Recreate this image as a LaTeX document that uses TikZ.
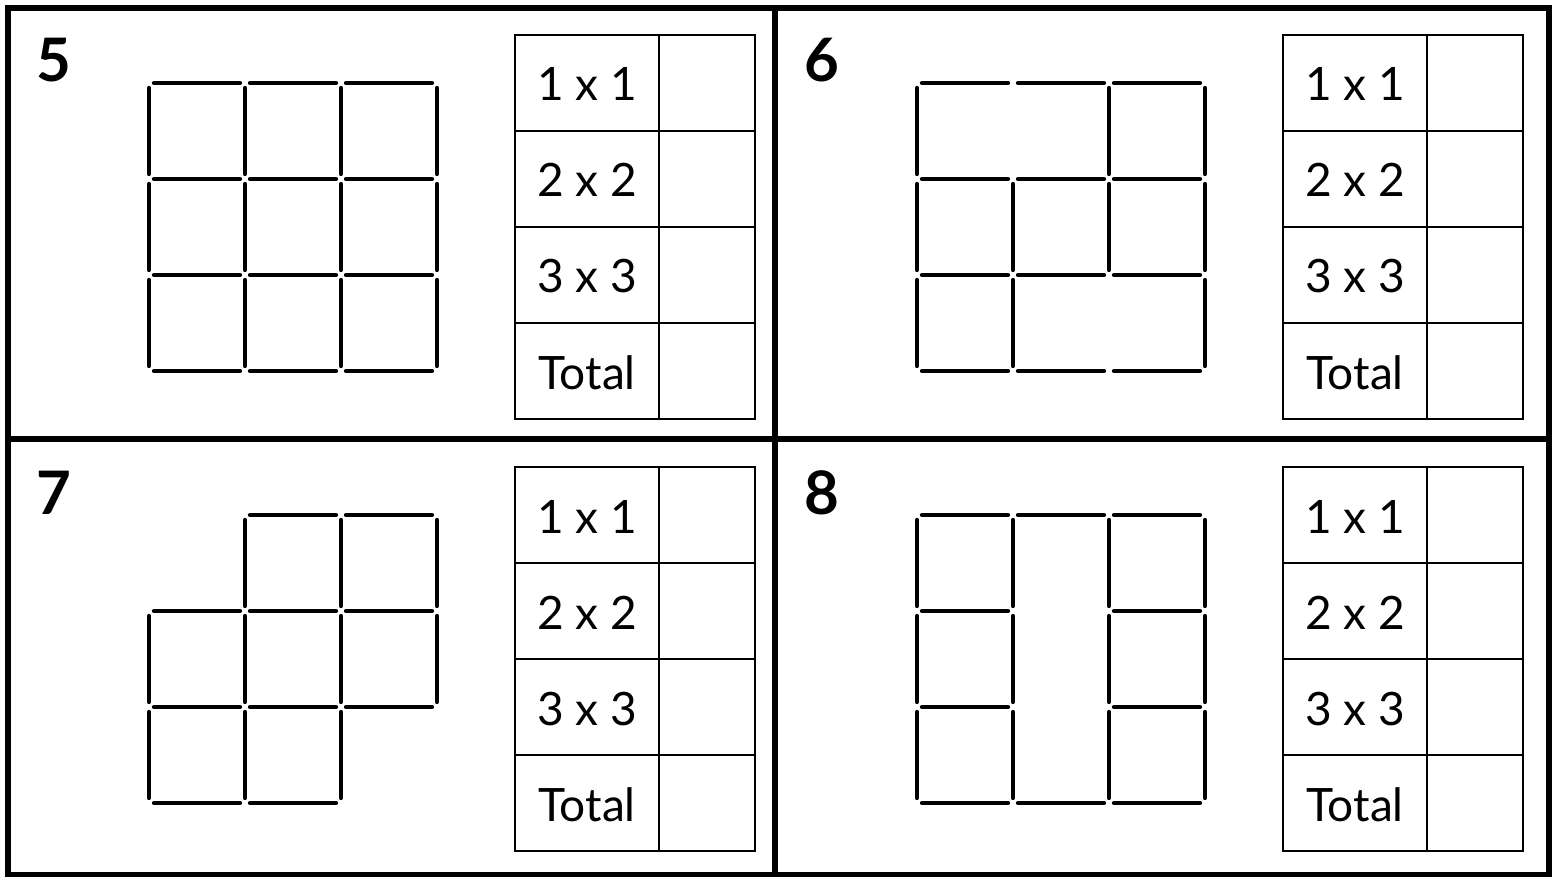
\documentclass[tikz,border=0pt]{standalone}
\usepackage{fontspec}
\setmainfont{Lato}
\usepackage{tikz}
\definecolor{mtsblack}{RGB}{0,0,0}

\begin{document}
\begin{tikzpicture}[x=0.5pt,y=-0.5pt,
    stick/.style={mtsblack,line width=2.1pt,line cap=round},
    tabline/.style={mtsblack,line width=1pt},
    frameline/.style={mtsblack,line width=2.6pt},
    cellnum/.style={anchor=base,inner sep=0pt,font=\fontsize{23}{27}\selectfont},
    paneltag/.style={anchor=base west,inner sep=0pt,font=\fontsize{30}{35}\selectfont\bfseries}]
  \useasboundingbox (0,0) rectangle (1559,877);
  % panels: table and number
  \foreach \ox/\oy/\num in {0/0/5,768/0/6,0/432/7,768/432/8}{
    \begin{scope}[shift={(\ox,\oy)}]
      \node[paneltag] (tag-\num) at (36,82) {\num};
      \draw[tabline] (515,35) rectangle (755,419);
      \draw[tabline] (659,35) -- (659,419);
      \foreach \r in {131,227,323}
        \draw[tabline] (515,\r) -- (755,\r);
      \foreach \k/\txt in {0/1 x 1,1/2 x 2,2/3 x 3,3/Total}
        \node[cellnum] (cell-\num-\k) at (587,{101+96*\k}) {\txt};
    \end{scope}
  }
  % matchsticks, grid origin (149,83), pitch 96
  \begin{scope}[shift={(149,83)}]
    \foreach \i in {0,1,2} \foreach \j in {0,1,2,3}
      \draw[stick] ({96*\i+5},{96*\j}) -- ++(86,0);
    \foreach \i in {0,1,2,3} \foreach \j in {0,1,2}
      \draw[stick] ({96*\i},{96*\j+5}) -- ++(0,86);
  \end{scope}
  \begin{scope}[shift={(917,83)}]
    \foreach \i in {0,1,2} \foreach \j in {0,1,2,3}
      \draw[stick] ({96*\i+5},{96*\j}) -- ++(86,0);
    \foreach \i/\j in {0/0,2/0,3/0,0/1,1/1,2/1,3/1,0/2,1/2,3/2}
      \draw[stick] ({96*\i},{96*\j+5}) -- ++(0,86);
  \end{scope}
  \begin{scope}[shift={(149,515)}]
    \foreach \i/\j in {1/0,2/0,0/1,1/1,2/1,0/2,1/2,2/2,0/3,1/3}
      \draw[stick] ({96*\i+5},{96*\j}) -- ++(86,0);
    \foreach \i/\j in {1/0,2/0,3/0,0/1,1/1,2/1,3/1,0/2,1/2,2/2}
      \draw[stick] ({96*\i},{96*\j+5}) -- ++(0,86);
  \end{scope}
  \begin{scope}[shift={(917,515)}]
    \foreach \i/\j in {0/0,1/0,2/0,0/1,2/1,0/2,2/2,0/3,1/3,2/3}
      \draw[stick] ({96*\i+5},{96*\j}) -- ++(86,0);
    \foreach \i in {0,1,2,3} \foreach \j in {0,1,2}
      \draw[stick] ({96*\i},{96*\j+5}) -- ++(0,86);
  \end{scope}
  % outer frame
  \draw[frameline] (8,8) rectangle (1549,875);
  \draw[frameline] (775,8) -- (775,875);
  \draw[frameline] (8,439) -- (1549,439);
\end{tikzpicture}
\end{document}
